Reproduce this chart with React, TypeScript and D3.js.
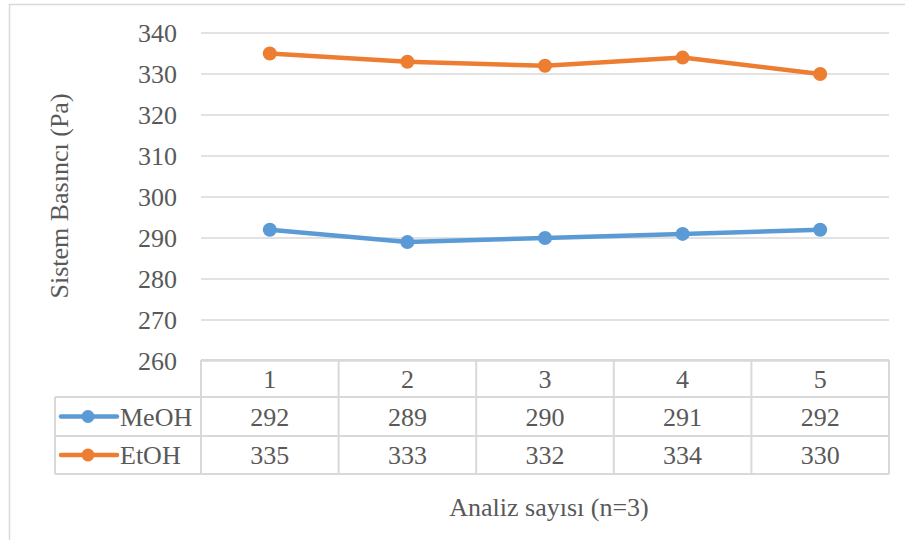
import React from "react";
import * as d3 from "d3";

// Chart data
const categories = ["1", "2", "3", "4", "5"];
const meohValues = [292, 289, 290, 291, 292];
const etohValues = [335, 333, 332, 334, 330];
const yTicks = [260, 270, 280, 290, 300, 310, 320, 330, 340];
const seriesNames = ["MeOH", "EtOH"];
const seriesColors = ["#5B9BD5", "#ED7D31"];

const W = 905;
const H = 540;
const FONT = "'Liberation Serif', 'Times New Roman', serif";
const TEXT = "#595959";
const GRID = "#D9D9D9";

export default function App() {
  const plotLeft = 201;
  const plotRight = 889;
  const plotTop = 33;
  const plotBottom = 361;

  const x = d3.scaleBand<string>().domain(categories).range([plotLeft, plotRight]);
  const y = d3.scaleLinear().domain([260, 340]).range([plotBottom, plotTop]);

  const series = [meohValues, etohValues];
  const line = d3
    .line<number>()
    .x((_, i) => (x(categories[i]) as number) + x.bandwidth() / 2)
    .y((v) => y(v));

  // data table geometry
  const rowTops = [360, 397, 436, 474];
  const labelLeft = 55;
  const fs = 26;
  const textStyle = { fontFamily: FONT };

  return (
    <svg
      width={W}
      height={H}
      style={{ position: "absolute", left: 0, top: 0, background: "#fff", fontFamily: FONT }}
    >
      <rect x={9.5} y={4.5} width={W} height={H} fill="#fff" stroke={GRID} strokeWidth={1.5} />

      {/* gridlines and y tick labels */}
      {yTicks.map((t) => (
        <g key={t}>
          <line x1={plotLeft} x2={plotRight} y1={y(t)} y2={y(t)} stroke={GRID} strokeWidth={1.5} />
          <text x={177} y={y(t)} dy="0.35em" textAnchor="end" fontSize={fs} fill={TEXT} style={textStyle}>
            {t}
          </text>
        </g>
      ))}

      {/* y axis title */}
      <text
        transform={`translate(${59},${196}) rotate(-90)`}
        textAnchor="middle"
        dy="0.35em"
        fontSize={fs}
        fill={TEXT}
        style={textStyle}
      >
        Sistem Basıncı (Pa)
      </text>

      {/* data table grid */}
      <g stroke={GRID} strokeWidth={2} fill="none">
        <line x1={plotLeft} x2={plotRight} y1={rowTops[0]} y2={rowTops[0]} />
        <line x1={labelLeft} x2={plotRight} y1={rowTops[1]} y2={rowTops[1]} />
        <line x1={labelLeft} x2={plotRight} y1={rowTops[2]} y2={rowTops[2]} />
        <line x1={labelLeft} x2={plotRight} y1={rowTops[3]} y2={rowTops[3]} />
        <line x1={labelLeft} x2={labelLeft} y1={rowTops[1]} y2={rowTops[3]} />
        {categories.map((c) => (
          <line
            key={c}
            x1={x(c) as number}
            x2={x(c) as number}
            y1={rowTops[0]}
            y2={rowTops[3]}
          />
        ))}
        <line x1={plotRight} x2={plotRight} y1={rowTops[0]} y2={rowTops[3]} />
      </g>

      {/* header row: category labels */}
      {categories.map((c) => (
        <text
          key={c}
          x={(x(c) as number) + x.bandwidth() / 2}
          y={(rowTops[0] + rowTops[1]) / 2}
          dy="0.35em"
          textAnchor="middle"
          fontSize={fs}
          fill={TEXT}
          style={textStyle}
        >
          {c}
        </text>
      ))}

      {/* value rows with legend keys */}
      {series.map((vals, si) => {
        const cy = (rowTops[si + 1] + rowTops[si + 2]) / 2;
        return (
          <g key={si}>
            <line x1={61} x2={117} y1={cy} y2={cy} stroke={seriesColors[si]} strokeWidth={4.5} strokeLinecap="round" />
            <circle cx={88} cy={cy} r={6.5} fill={seriesColors[si]} />
            <text x={120} y={cy} dy="0.35em" fontSize={fs} fill={TEXT} style={textStyle}>
              {seriesNames[si]}
            </text>
            {vals.map((v, i) => (
              <text
                key={i}
                x={(x(categories[i]) as number) + x.bandwidth() / 2}
                y={cy}
                dy="0.35em"
                textAnchor="middle"
                fontSize={fs}
                fill={TEXT}
                style={textStyle}
              >
                {v}
              </text>
            ))}
          </g>
        );
      })}

      {/* series lines and markers */}
      {series.map((vals, si) => (
        <g key={si}>
          <path
            d={line(vals) || ""}
            fill="none"
            stroke={seriesColors[si]}
            strokeWidth={4.5}
            strokeLinejoin="round"
            strokeLinecap="round"
          />
          {vals.map((v, i) => (
            <circle
              key={i}
              cx={(x(categories[i]) as number) + x.bandwidth() / 2}
              cy={y(v)}
              r={7}
              fill={seriesColors[si]}
            />
          ))}
        </g>
      ))}

      {/* x axis title */}
      <text x={549} y={507} dy="0.35em" textAnchor="middle" fontSize={fs} fill={TEXT} style={textStyle}>
        Analiz sayısı (n=3)
      </text>
    </svg>
  );
}
